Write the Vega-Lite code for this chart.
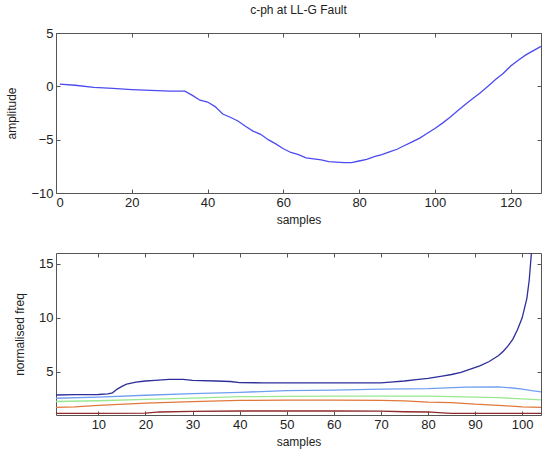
{
  "$schema": "https://vega.github.io/schema/vega-lite/v6.json",
  "autosize": {"type": "none"},
  "padding": {"left": 56, "top": 33, "right": 494, "bottom": 429},
  "background": "white",
  "config": {
    "font": "Liberation Sans",
    "view": {"stroke": "#555", "strokeWidth": 1},
    "axis": {
      "grid": false,
      "domain": false,
      "tickColor": "#555",
      "tickSize": 4,
      "labelFontSize": 13,
      "labelColor": "#222",
      "titleFontSize": 12,
      "titleFontWeight": "normal",
      "titleColor": "#222",
      "labelFont": "Liberation Sans",
      "titleFont": "Liberation Sans"
    }
  },
  "bounds": "flush",
  "spacing": 60,
  "datasets": {
    "top": [
      {"s": 1, "v": 0.2}, {"s": 5, "v": 0.1}, {"s": 10, "v": -0.1}, {"s": 15, "v": -0.2},
      {"s": 20, "v": -0.3}, {"s": 25, "v": -0.37}, {"s": 30, "v": -0.44}, {"s": 34, "v": -0.45},
      {"s": 36, "v": -0.85}, {"s": 38, "v": -1.3}, {"s": 40, "v": -1.47}, {"s": 42, "v": -1.9},
      {"s": 44, "v": -2.6}, {"s": 46, "v": -2.9}, {"s": 48, "v": -3.25}, {"s": 50, "v": -3.75},
      {"s": 52, "v": -4.2}, {"s": 54, "v": -4.5}, {"s": 56, "v": -5.0}, {"s": 58, "v": -5.4},
      {"s": 60, "v": -5.85}, {"s": 62, "v": -6.2}, {"s": 64, "v": -6.4}, {"s": 66, "v": -6.7},
      {"s": 68, "v": -6.8}, {"s": 70, "v": -6.9}, {"s": 72, "v": -7.05}, {"s": 74, "v": -7.1},
      {"s": 76, "v": -7.15}, {"s": 78, "v": -7.15}, {"s": 80, "v": -7.0}, {"s": 82, "v": -6.85},
      {"s": 84, "v": -6.6}, {"s": 86, "v": -6.4}, {"s": 88, "v": -6.15}, {"s": 90, "v": -5.9},
      {"s": 92, "v": -5.55}, {"s": 94, "v": -5.2}, {"s": 96, "v": -4.85}, {"s": 98, "v": -4.4},
      {"s": 100, "v": -3.95}, {"s": 102, "v": -3.45}, {"s": 104, "v": -2.9}, {"s": 106, "v": -2.3},
      {"s": 108, "v": -1.7}, {"s": 110, "v": -1.15}, {"s": 112, "v": -0.6}, {"s": 114, "v": 0.0},
      {"s": 116, "v": 0.65}, {"s": 118, "v": 1.2}, {"s": 120, "v": 1.9}, {"s": 122, "v": 2.45},
      {"s": 124, "v": 2.95}, {"s": 126, "v": 3.35}, {"s": 128, "v": 3.75}
    ],
    "bottom": [
      {"k": "a", "s": 1, "f": 2.85}, {"k": "a", "s": 5, "f": 2.88}, {"k": "a", "s": 10, "f": 2.9},
      {"k": "a", "s": 12, "f": 2.95}, {"k": "a", "s": 13, "f": 3.05}, {"k": "a", "s": 14, "f": 3.4},
      {"k": "a", "s": 15, "f": 3.65}, {"k": "a", "s": 16, "f": 3.85}, {"k": "a", "s": 18, "f": 4.05},
      {"k": "a", "s": 20, "f": 4.15}, {"k": "a", "s": 22, "f": 4.2}, {"k": "a", "s": 25, "f": 4.3},
      {"k": "a", "s": 28, "f": 4.3}, {"k": "a", "s": 30, "f": 4.2}, {"k": "a", "s": 35, "f": 4.15},
      {"k": "a", "s": 38, "f": 4.1}, {"k": "a", "s": 40, "f": 4.0}, {"k": "a", "s": 45, "f": 3.98},
      {"k": "a", "s": 50, "f": 3.97}, {"k": "a", "s": 60, "f": 3.97}, {"k": "a", "s": 70, "f": 3.97},
      {"k": "a", "s": 72, "f": 4.05}, {"k": "a", "s": 75, "f": 4.15}, {"k": "a", "s": 78, "f": 4.3},
      {"k": "a", "s": 80, "f": 4.4}, {"k": "a", "s": 83, "f": 4.6}, {"k": "a", "s": 85, "f": 4.75},
      {"k": "a", "s": 87, "f": 4.95}, {"k": "a", "s": 89, "f": 5.25}, {"k": "a", "s": 91, "f": 5.55},
      {"k": "a", "s": 93, "f": 5.95}, {"k": "a", "s": 95, "f": 6.5}, {"k": "a", "s": 96, "f": 6.9},
      {"k": "a", "s": 97, "f": 7.4}, {"k": "a", "s": 98, "f": 8.0}, {"k": "a", "s": 99, "f": 8.9},
      {"k": "a", "s": 100, "f": 10.0}, {"k": "a", "s": 101, "f": 11.8}, {"k": "a", "s": 101.5, "f": 13.5},
      {"k": "a", "s": 102, "f": 16.2},
      {"k": "b", "s": 1, "f": 2.55}, {"k": "b", "s": 10, "f": 2.65}, {"k": "b", "s": 20, "f": 2.83},
      {"k": "b", "s": 30, "f": 2.97}, {"k": "b", "s": 40, "f": 3.1}, {"k": "b", "s": 50, "f": 3.25},
      {"k": "b", "s": 60, "f": 3.3}, {"k": "b", "s": 70, "f": 3.4}, {"k": "b", "s": 80, "f": 3.45},
      {"k": "b", "s": 88, "f": 3.58}, {"k": "b", "s": 95, "f": 3.6}, {"k": "b", "s": 98, "f": 3.5},
      {"k": "b", "s": 100, "f": 3.4}, {"k": "b", "s": 102, "f": 3.25}, {"k": "b", "s": 104, "f": 3.15},
      {"k": "c", "s": 1, "f": 2.25}, {"k": "c", "s": 10, "f": 2.32}, {"k": "c", "s": 20, "f": 2.45},
      {"k": "c", "s": 30, "f": 2.57}, {"k": "c", "s": 40, "f": 2.7}, {"k": "c", "s": 50, "f": 2.72},
      {"k": "c", "s": 60, "f": 2.75}, {"k": "c", "s": 70, "f": 2.75}, {"k": "c", "s": 80, "f": 2.75},
      {"k": "c", "s": 90, "f": 2.65}, {"k": "c", "s": 95, "f": 2.6}, {"k": "c", "s": 100, "f": 2.5},
      {"k": "c", "s": 104, "f": 2.4},
      {"k": "d", "s": 1, "f": 1.7}, {"k": "d", "s": 5, "f": 1.75}, {"k": "d", "s": 10, "f": 1.9},
      {"k": "d", "s": 20, "f": 2.1}, {"k": "d", "s": 30, "f": 2.23}, {"k": "d", "s": 40, "f": 2.35},
      {"k": "d", "s": 50, "f": 2.38}, {"k": "d", "s": 60, "f": 2.38}, {"k": "d", "s": 70, "f": 2.36},
      {"k": "d", "s": 75, "f": 2.3}, {"k": "d", "s": 80, "f": 2.2}, {"k": "d", "s": 85, "f": 2.15},
      {"k": "d", "s": 90, "f": 2.0}, {"k": "d", "s": 95, "f": 1.9}, {"k": "d", "s": 100, "f": 1.75},
      {"k": "d", "s": 104, "f": 1.7},
      {"k": "e", "s": 1, "f": 1.15}, {"k": "e", "s": 10, "f": 1.15}, {"k": "e", "s": 20, "f": 1.18},
      {"k": "e", "s": 23, "f": 1.28}, {"k": "e", "s": 30, "f": 1.33}, {"k": "e", "s": 40, "f": 1.37},
      {"k": "e", "s": 50, "f": 1.37}, {"k": "e", "s": 60, "f": 1.37}, {"k": "e", "s": 70, "f": 1.36},
      {"k": "e", "s": 75, "f": 1.3}, {"k": "e", "s": 80, "f": 1.28}, {"k": "e", "s": 83, "f": 1.2},
      {"k": "e", "s": 85, "f": 1.15}, {"k": "e", "s": 90, "f": 1.15}, {"k": "e", "s": 100, "f": 1.15},
      {"k": "e", "s": 104, "f": 1.15}
    ]
  },
  "vconcat": [
    {
      "width": 485,
      "height": 160,
      "title": {"text": "c-ph at LL-G Fault", "fontSize": 12, "fontWeight": "normal", "color": "#222", "offset": 10, "font": "Liberation Sans"},
      "data": {"name": "top"},
      "layer": [
        {
          "mark": {"type": "line", "color": "#4b4bf0", "strokeWidth": 1.3},
          "encoding": {
            "x": {"field": "s", "type": "quantitative", "scale": {"domain": [0, 128], "nice": false, "zero": false},
                  "axis": {"title": "samples", "values": [0, 20, 40, 60, 80, 100, 120], "ticks": false, "labelPadding": 3, "titlePadding": 5}},
            "y": {"field": "v", "type": "quantitative", "scale": {"domain": [-10, 5], "nice": false},
                  "axis": {"title": "amplitude", "values": [-10, -5, 0, 5], "ticks": false, "labelPadding": 3, "titlePadding": 12}}
          }
        },
        {
          "mark": {"type": "point", "opacity": 0},
          "encoding": {
            "x": {"field": "s", "type": "quantitative", "axis": {"orient": "bottom", "offset": -4, "labels": false, "title": null, "values": [0, 20, 40, 60, 80, 100, 120]}},
            "y": {"field": "v", "type": "quantitative", "axis": {"orient": "left", "offset": -4, "labels": false, "title": null, "values": [-10, -5, 0, 5]}}
          }
        },
        {
          "mark": {"type": "point", "opacity": 0},
          "encoding": {
            "x": {"field": "s", "type": "quantitative", "axis": {"orient": "top", "offset": -4, "labels": false, "title": null, "values": [0, 20, 40, 60, 80, 100, 120]}},
            "y": {"field": "v", "type": "quantitative", "axis": {"orient": "right", "offset": -4, "labels": false, "title": null, "values": [-10, -5, 0, 5]}}
          }
        }
      ],
      "resolve": {"axis": {"x": "independent", "y": "independent"}}
    },
    {
      "width": 485,
      "height": 162,
      "data": {"name": "bottom"},
      "layer": [
        {
          "mark": {"type": "line", "strokeWidth": 1.3, "clip": true},
          "encoding": {
            "x": {"field": "s", "type": "quantitative", "scale": {"domain": [1, 104], "nice": false, "zero": false},
                  "axis": {"title": "samples", "values": [10, 20, 30, 40, 50, 60, 70, 80, 90, 100], "ticks": false, "labelPadding": 3, "titlePadding": 5}},
            "y": {"field": "f", "type": "quantitative", "scale": {"domain": [1, 16], "nice": false, "zero": false},
                  "axis": {"title": "normalised freq", "values": [5, 10, 15], "ticks": false, "labelPadding": 3, "titlePadding": 12}},
            "color": {"field": "k", "type": "nominal", "legend": null,
                      "scale": {"domain": ["a", "b", "c", "d", "e"], "range": ["#2e2e9a", "#6f9ff0", "#98e890", "#e0783c", "#8e2a2a"]}}
          }
        },
        {
          "mark": {"type": "point", "opacity": 0},
          "encoding": {
            "x": {"field": "s", "type": "quantitative", "axis": {"orient": "bottom", "offset": -4, "labels": false, "title": null, "values": [10, 20, 30, 40, 50, 60, 70, 80, 90, 100]}},
            "y": {"field": "f", "type": "quantitative", "axis": {"orient": "left", "offset": -4, "labels": false, "title": null, "values": [5, 10, 15]}}
          }
        },
        {
          "mark": {"type": "point", "opacity": 0},
          "encoding": {
            "x": {"field": "s", "type": "quantitative", "axis": {"orient": "top", "offset": -4, "labels": false, "title": null, "values": [10, 20, 30, 40, 50, 60, 70, 80, 90, 100]}},
            "y": {"field": "f", "type": "quantitative", "axis": {"orient": "right", "offset": -4, "labels": false, "title": null, "values": [5, 10, 15]}}
          }
        }
      ],
      "resolve": {"axis": {"x": "independent", "y": "independent"}}
    }
  ]
}
